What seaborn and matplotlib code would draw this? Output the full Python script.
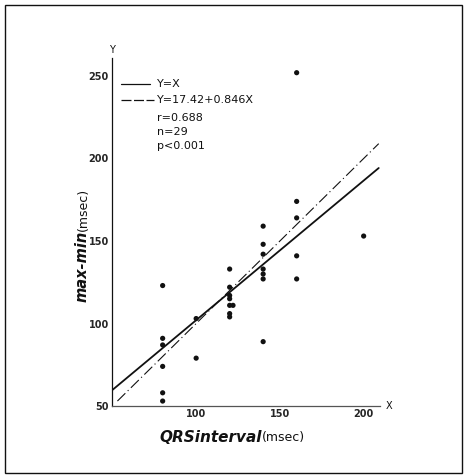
import matplotlib
matplotlib.use("Agg")
import matplotlib.pyplot as plt
from matplotlib.lines import Line2D
from matplotlib.patches import Rectangle
import numpy as np
import pandas as pd
import seaborn as sns

# ── Data ──────────────────────────────────────────────────────────────────────
qrs = [80, 80, 80, 80, 80, 80,
       100, 100,
       120, 120, 120, 120, 120, 122, 120, 120,
       140, 140, 140, 140, 140, 140, 140,
       160, 160, 160, 160, 160,
       200]
maxmin = [123, 91, 87, 74, 58, 53,
          103, 79,
          133, 122, 117, 115, 111, 111, 106, 104,
          159, 148, 142, 133, 130, 127, 89,
          252, 174, 164, 141, 127,
          153]

identity_x = [53, 209]
reg_x = [50, 209]
reg_a, reg_b = 17.42, 0.846

x_ticks = [100, 150, 200]
y_ticks = [50, 100, 150, 200, 250]

INK = "#111111"

sns.set_style("white")
plt.rcParams["font.family"] = ["DejaVu Sans"]

W, H = 466, 476
fig = plt.figure(figsize=(W / 100, H / 100), dpi=100)

# axes placed so that (50, 50) sits at the scanned origin
x0, x1 = 50, 215
y0, y1 = 50, 265
px_x, px_y = 1.675, 1.65
left = 112.4 / W
bottom = (H - 406) / H
ax = fig.add_axes([left, bottom, (x1 - x0) * px_x / W, (y1 - y0) * px_y / H])

df = pd.DataFrame({"qrs": qrs, "maxmin": maxmin})
sns.scatterplot(data=df, x="qrs", y="maxmin", ax=ax, color=INK, s=14,
                edgecolor="none", zorder=3)

# Y = X  (thin dash-dot) and regression (solid)
sns.lineplot(x=identity_x, y=identity_x, ax=ax, color=INK, lw=0.8,
             linestyle=(0, (10, 3, 1, 3)))
reg_y = [reg_a + reg_b * v for v in reg_x]
sns.lineplot(x=reg_x, y=reg_y, ax=ax, color=INK, lw=1.3)

ax.set_xlim(x0, x1)
ax.set_ylim(y0, y1)
ax.set_xticks(x_ticks)
ax.set_yticks(y_ticks)
ax.tick_params(length=0, pad=2.5, labelsize=7)
for lab in ax.get_xticklabels() + ax.get_yticklabels():
    lab.set_fontweight("bold")
ax.set_xlabel("")
ax.set_ylabel("")

for s in ["top", "right"]:
    ax.spines[s].set_visible(False)
ax.spines["left"].set_bounds(50, 261)
ax.spines["bottom"].set_bounds(50, 210)
ax.spines["left"].set_color(INK)
ax.spines["bottom"].set_color("#555555")
ax.spines["left"].set_linewidth(0.9)
ax.spines["bottom"].set_linewidth(0.9)

ax.text(213, 50, "X", fontsize=7, ha="left", va="center", color=INK)
ax.text(50, 263, "Y", fontsize=7, ha="center", va="bottom", color=INK)

# ── legend / stats block (figure pixels) ──────────────────────────────────────
def fx(p):
    return p / W

def fy(p):
    return 1 - p / H

fig.add_artist(Line2D([fx(121), fx(150)], [fy(84), fy(84)], color=INK, lw=0.9))
fig.add_artist(Line2D([fx(121), fx(154)], [fy(100), fy(100)], color=INK, lw=0.9,
                      linestyle=(0, (8, 2))))
txt_kw = dict(fontsize=8, color=INK, ha="left", va="center")
fig.text(fx(157), fy(84), "Y=X", **txt_kw)
fig.text(fx(157), fy(100), "Y=17.42+0.846X", **txt_kw)
fig.text(fx(157), fy(118), "r=0.688", **txt_kw)
fig.text(fx(157), fy(132), "n=29", **txt_kw)
fig.text(fx(157), fy(146), "p<0.001", **txt_kw)

# ── axis titles: bold-italic part + regular unit part ─────────────────────────
split_x = fx(262)
fig.text(split_x, fy(437), "QRSinterval", fontsize=11, fontweight="bold",
         fontstyle="italic", ha="right", va="center", color=INK)
fig.text(split_x, fy(437), "(msec)", fontsize=9, ha="left", va="center", color=INK)

split_y = fy(231)
fig.text(fx(82), split_y, "max-min", fontsize=10.5, fontweight="bold",
         fontstyle="italic", rotation=90, ha="center", va="top", color=INK)
fig.text(fx(83), split_y, "(msec)", fontsize=9, rotation=90,
         ha="center", va="bottom", color=INK)

# scanned page border
fig.add_artist(Rectangle((fx(5), fy(473)), fx(457), 468 / H, fill=False,
                         edgecolor=INK, lw=1.0, transform=fig.transFigure))

fig.savefig("out.png", dpi=100)
plt.close("all")
